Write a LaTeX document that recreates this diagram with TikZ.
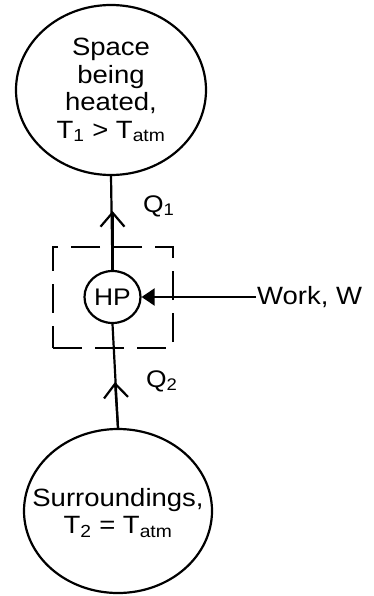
\documentclass[tikz,border=0pt]{standalone}
\usepackage{fontspec}
\setmainfont[FakeStretch=1.1]{Liberation Sans}
\usetikzlibrary{shapes.geometric,arrows.meta}
\begin{document}
\begin{tikzpicture}[x=1pt,y=-1pt,line width=2.2pt,
  body/.style={draw,ellipse,inner sep=0pt},
  bodytext/.style={align=center,inner sep=0pt,font=\fontsize{25}{27.5}\selectfont},
  lbl/.style={font=\fontsize{24}{27}\selectfont,inner sep=0pt},
  hpbox/.style={draw,dash pattern=on 29pt off 13pt,minimum width=120pt,minimum height=101pt,inner sep=0pt},
  openhead/.style={-{Straight Barb[length=14pt,width=24pt]}},
  fillhead/.style={-{Triangle[length=13pt,width=17pt]}}]
\useasboundingbox (0,0) rectangle (374,596);
\node[body,minimum width=190pt,minimum height=170pt] (top) at (111,90) {};
\node[bodytext] (toptext) at (111,90)
  {Space\\being\\heated,\\T\textsubscript{1} > T\textsubscript{atm}};
\node[body,minimum width=188pt,minimum height=164pt] (bot) at (118,511) {};
\node[bodytext] (bottext) at (118,513)
  {Surroundings,\\T\textsubscript{2} = T\textsubscript{atm}};
\node[hpbox] (box) at (113,297.5) {};
\node[draw,ellipse,minimum width=56pt,minimum height=52pt,inner sep=0pt,font=\fontsize{24}{26}\selectfont] (hp) at (112.5,297) {HP};
\coordinate (q1) at (112.5,211);
\coordinate (q2) at (115,382);
\draw (hp.north) -- (top.south);
\draw[openhead] (hp.north) -- (q1);
\draw (bot.north) -- (hp.south);
\draw[openhead] (bot.north) -- (q2);
\node[lbl,anchor=west] (q1l) at (142,206) {Q\textsubscript{1}};
\node[lbl,anchor=west] (q2l) at (145,381) {Q\textsubscript{2}};
\node[lbl,anchor=west,font=\fontsize{25}{27}\selectfont] (work) at (256,297) {Work, W};
\draw[fillhead] (work.west) -- (hp.east);
\end{tikzpicture}
\end{document}
